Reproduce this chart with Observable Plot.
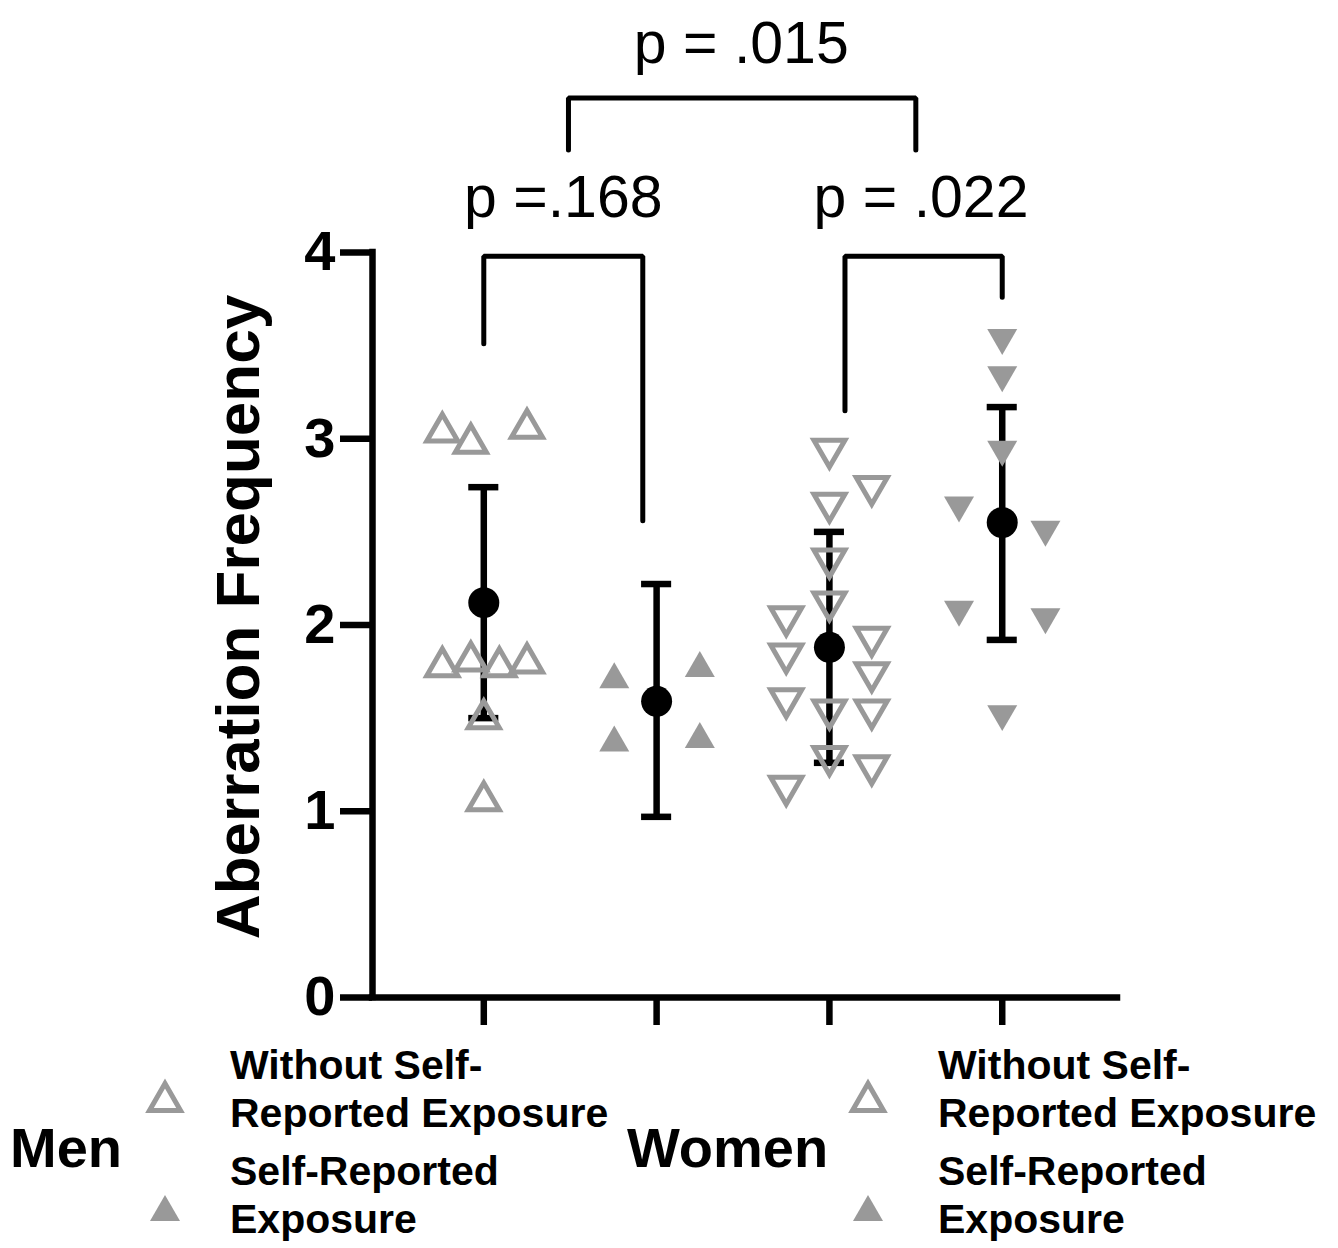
<!DOCTYPE html>
<html><head><meta charset="utf-8">
<script src="https://cdn.jsdelivr.net/npm/d3@7"></script>
<script src="https://cdn.jsdelivr.net/npm/@observablehq/plot@0.6"></script>
<style>
body{margin:0;background:#fff;font-family:"Liberation Sans",Arial,Helvetica,sans-serif;}
#wrap{position:relative;width:1338px;height:1248px;overflow:hidden;}
#chart{position:absolute;left:0;top:0;}
#legend{position:absolute;left:0;top:1045px;width:1338px;height:203px;}
.grp{position:absolute;font-weight:bold;font-size:56px;line-height:56px;white-space:nowrap;color:#000;}
.item{position:absolute;font-weight:bold;font-size:41px;line-height:48px;white-space:pre;color:#000;}
.sym{position:absolute;}
</style></head><body>
<div id="wrap"><div id="chart"></div><div id="legend"></div></div>
<script>
// ---- data ----
const groups = ["Men, without self-reported exposure", "Men, self-reported exposure",
                "Women, without self-reported exposure", "Women, self-reported exposure"];
const groupPos = [1, 2, 3, 4];

const menWithoutY      = [3.06, 3.00, 3.08, 1.80, 1.83, 1.80, 1.82, 1.52, 1.08];
const menWithoutJitter = [-0.24, -0.075, 0.25, -0.24, -0.075, 0.09, 0.25, 0, 0];

const menWithY      = [1.73, 1.39, 1.79, 1.41];
const menWithJitter = [-0.245, -0.245, 0.25, 0.25];

const womenWithoutY      = [2.92, 2.72, 2.63, 2.33, 2.10, 2.02, 1.82, 1.91, 1.72, 1.58, 1.52, 1.52, 1.27, 1.22, 1.11];
const womenWithoutJitter = [0, 0.245, 0, 0, 0, -0.25, -0.25, 0.245, 0.245, -0.25, 0, 0.245, 0, 0.245, -0.25];

const womenWithY      = [3.52, 3.32, 2.92, 2.62, 2.49, 2.06, 2.02, 1.50];
const womenWithJitter = [0, 0, 0, -0.25, 0.25, -0.25, 0.25, 0];

const means   = [2.12, 1.59, 1.88, 2.55];
const errLow  = [1.50, 0.97, 1.26, 1.92];
const errHigh = [2.74, 2.22, 2.50, 3.17];

const yTicks = [0, 1, 2, 3, 4];
const yLabel = "Aberration Frequency";

const pLabels = ["p = .015", "p =.168", "p = .022"];
const pX = [2.49, 1.46, 3.53];
const pY = [5.12, 4.29, 4.29];

const bracketX1 = [1.49, 1.00, 3.09];
const bracketX2 = [3.50, 1.92, 4.00];
const bracketTop = [4.83, 3.98, 3.98];
const bracketLeftEnd = [4.55, 3.51, 3.15];
const bracketRightEnd = [4.55, 2.56, 3.76];

const legendGroups = ["Men", "Women"];
const legendItems = ["Without Self-\nReported Exposure", "Self-Reported\nExposure"];

// ---- build tables ----
const xDomain = [0.356, 4.667];
const capHalf = 0.087;
const gray = "#999999";

const mk = (ys, js, g) => ys.map((y, i) => ({x: groupPos[g] + js[i], y, group: groups[g]}));
const ptsMenWithout = mk(menWithoutY, menWithoutJitter, 0);
const ptsMenWith = mk(menWithY, menWithJitter, 1);
const ptsWomenWithout = mk(womenWithoutY, womenWithoutJitter, 2);
const ptsWomenWith = mk(womenWithY, womenWithJitter, 3);

const summary = groups.map((g, i) => ({group: g, pos: groupPos[i], mean: means[i], lo: errLow[i], hi: errHigh[i]}));

const bracketPts = [];
bracketX1.forEach((x1, i) => {
  bracketPts.push({id: i, x: x1, y: bracketLeftEnd[i]});
  bracketPts.push({id: i, x: x1, y: bracketTop[i]});
  bracketPts.push({id: i, x: bracketX2[i], y: bracketTop[i]});
  bracketPts.push({id: i, x: bracketX2[i], y: bracketRightEnd[i]});
});
const pTable = pLabels.map((t, i) => ({text: t, x: pX[i], y: pY[i]}));

// custom triangle symbols (size = pi r^2)
const S3 = Math.sqrt(3);
const triUp = {draw(ctx, size) { const r = Math.sqrt(size / Math.PI), h = r * S3 / 2;
  ctx.moveTo(0, -h); ctx.lineTo(r, h); ctx.lineTo(-r, h); ctx.closePath(); }};
const triDown = {draw(ctx, size) { const r = Math.sqrt(size / Math.PI), h = r * S3 / 2;
  ctx.moveTo(0, h); ctx.lineTo(r, -h); ctx.lineTo(-r, -h); ctx.closePath(); }};

const chart = Plot.plot({
  width: 1338, height: 1045,
  marginLeft: 372, marginRight: 221, marginTop: 252, marginBottom: 48,
  x: {domain: xDomain},
  y: {domain: [0, 4]},
  style: {fontFamily: "'Liberation Sans', Arial, Helvetica, sans-serif", background: "white", color: "black", overflow: "visible"},
  marks: [
    Plot.axisY(yTicks, {tickSize: 32, tickPadding: 5, strokeWidth: 6.5, fontSize: 56, fontWeight: "bold", tickFormat: "d", label: null}),
    Plot.axisX(groupPos, {tickSize: 28, strokeWidth: 6.5, tickFormat: () => "", label: null}),
    Plot.ruleX([xDomain[0]], {y1: 0, y2: 4, strokeWidth: 6.5, strokeLinecap: "square"}),
    Plot.ruleY([0], {x1: xDomain[0], x2: xDomain[1], strokeWidth: 6.5, strokeLinecap: "square"}),
    Plot.text([yLabel], {text: d => d, frameAnchor: "left", textAnchor: "middle", lineAnchor: "middle", rotate: -90, dx: -133, dy: -8, fontSize: 62, fontWeight: "bold"}),
    // significance brackets
    Plot.line(bracketPts, {x: "x", y: "y", z: "id", strokeWidth: 5, strokeLinejoin: "miter"}),
    Plot.text(pTable, {x: "x", y: "y", text: "text", fontSize: 59}),
    // error bars
    Plot.ruleX(summary, {x: "pos", y1: "lo", y2: "hi", strokeWidth: 6.5}),
    Plot.ruleY(summary, {y: "lo", x1: d => d.pos - capHalf, x2: d => d.pos + capHalf, strokeWidth: 6.5}),
    Plot.ruleY(summary, {y: "hi", x1: d => d.pos - capHalf, x2: d => d.pos + capHalf, strokeWidth: 6.5}),
    Plot.dot(summary, {x: "pos", y: "mean", r: 15.5, fill: "black", stroke: "none"}),
    // individual points
    Plot.dot(ptsMenWithout, {x: "x", y: "y", symbol: triUp, r: 15.5, fill: "none", stroke: gray, strokeWidth: 5, strokeLinejoin: "miter"}),
    Plot.dot(ptsMenWith, {x: "x", y: "y", symbol: triUp, r: 15, fill: gray, stroke: "none"}),
    Plot.dot(ptsWomenWithout, {x: "x", y: "y", symbol: triDown, r: 15.5, fill: "none", stroke: gray, strokeWidth: 5, strokeLinejoin: "miter"}),
    Plot.dot(ptsWomenWith, {x: "x", y: "y", symbol: triDown, r: 15, fill: gray, stroke: "none"})
  ]
});
document.getElementById("chart").appendChild(chart);

// ---- legend (below the svg) ----
const legend = document.getElementById("legend");
const grpLeft = [10, 627], symLeft = [165, 868], itemLeft = [230, 938];
function triSvg(filled) {
  const r = filled ? 15 : 15.5, h = r * S3 / 2;
  const pts = `${22},${20 - h} ${22 + r},${20 + h} ${22 - r},${20 + h}`;
  return `<svg width="44" height="40" viewBox="0 0 44 40"><polygon points="${pts}" ` +
    (filled ? `fill="${gray}"` : `fill="none" stroke="${gray}" stroke-width="5" stroke-linejoin="miter"`) + `/></svg>`;
}
legendGroups.forEach((g, gi) => {
  const d = document.createElement("div");
  d.className = "grp"; d.textContent = g;
  d.style.left = grpLeft[gi] + "px"; d.style.top = "75px";
  legend.appendChild(d);
  legendItems.forEach((t, ii) => {
    const s = document.createElement("div");
    s.className = "sym"; s.innerHTML = triSvg(ii === 1);
    s.style.left = (symLeft[gi] - 22) + "px";
    s.style.top = ((ii === 0 ? 52 : 163) - 20) + "px";
    legend.appendChild(s);
    const e = document.createElement("div");
    e.className = "item"; e.textContent = t;
    e.style.left = itemLeft[gi] + "px";
    e.style.top = (ii === 0 ? -4 : 102) + "px";
    legend.appendChild(e);
  });
});
</script>
</body></html>
